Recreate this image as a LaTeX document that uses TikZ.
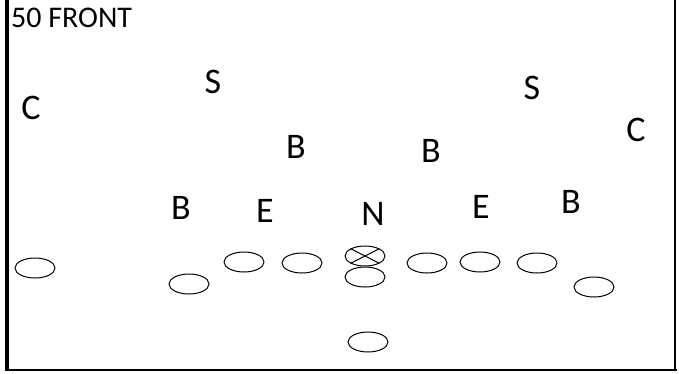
\documentclass[tikz,border=0pt]{standalone}
\usepackage{fontspec}
\setmainfont{Carlito}
\usetikzlibrary{shapes.geometric}
\tikzset{
  defender/.style={font=\fontsize{36}{40}\selectfont,inner sep=0pt},
  blocker/.style={draw,ellipse,minimum width=40pt,minimum height=20pt,inner sep=0pt,line width=1pt},
}

\begin{document}
\begin{tikzpicture}[x=1pt,y=-1pt]
\useasboundingbox (0,0) rectangle (679,373);
% frame
\draw[line width=3.5pt] (7,0) -- (7,371);
\draw[line width=2.5pt] (5.5,370) -- (676.5,370) (675,371) -- (675,0);
\node[anchor=west,font=\fontsize{30}{33}\selectfont,inner sep=0pt] (title) at (11,18) {50 FRONT};
% defense
\node[defender] (cbL) at (31,108) {C};
\node[defender] (ssL) at (213,82) {S};
\node[defender] (lbL) at (296,147) {B};
\node[defender] (lbR) at (431,151) {B};
\node[defender] (ssR) at (532,88) {S};
\node[defender] (cbR) at (636,130) {C};
\node[defender] (obL) at (181,208) {B};
\node[defender] (deL) at (265,211) {E};
\node[defender] (nose) at (373,214) {N};
\node[defender] (deR) at (481,207) {E};
\node[defender] (obR) at (571,202) {B};
% offense
\foreach \n/\x/\y in {se/35/268,wgL/189/284,lt/244/262,lg/302/263,ctr/365/256,qb/365/277,
  rg/427/263,rt/480/262,te/537/263,wgR/594/287,rb/368/342}
  \node[blocker] (\n) at (\x,\y) {};
\draw[line width=1pt] (ctr.north west) -- (ctr.south east) (ctr.south west) -- (ctr.north east);
\end{tikzpicture}
\end{document}
